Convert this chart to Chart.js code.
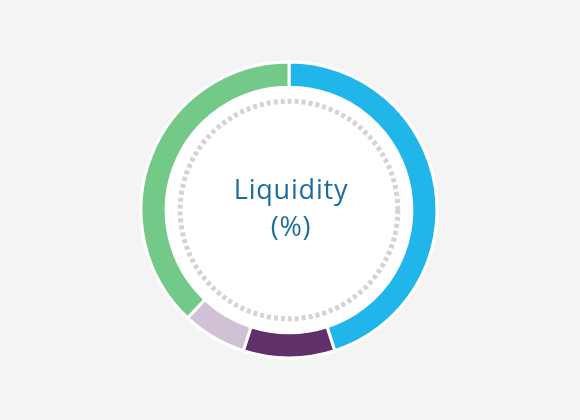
<!DOCTYPE html>
<html>
<head>
<meta charset="utf-8">
<script src="https://cdn.jsdelivr.net/npm/chart.js@4"></script>
<style>
html,body{margin:0;padding:0;background:#f4f4f4;}
#wrap{width:580px;height:420px;position:relative;}
</style>
</head>
<body>
<div id="wrap"><canvas id="c" width="580" height="420"></canvas></div>
<script>
const categories = ["Segment A", "Segment B", "Segment C", "Segment D"];
const values = [45, 10, 7, 38];
const colors = ["#21b6ea", "#612f6a", "#d1c1d7", "#73c987"];
const centerLines = ["Liquidity", "(%)"];

const centerPlugin = {
  id: 'centerDecor',
  beforeDatasetsDraw(chart) {
    const arc = chart.getDatasetMeta(0).data[0];
    if (!arc) return;
    const ctx = chart.ctx;
    const x = arc.x, y = arc.y;
    ctx.save();
    ctx.fillStyle = '#ffffff';
    ctx.beginPath();
    ctx.arc(x, y, arc.outerRadius + 1.5, 0, Math.PI * 2);
    ctx.fill();
    ctx.restore();
  },
  afterDatasetsDraw(chart) {
    const arc = chart.getDatasetMeta(0).data[0];
    if (!arc) return;
    const ctx = chart.ctx;
    const x = arc.x, y = arc.y;
    ctx.save();
    ctx.strokeStyle = '#d4d4d4';
    ctx.lineWidth = 5;
    ctx.setLineDash([4, 3]);
    ctx.beginPath();
    ctx.arc(x, y, arc.innerRadius - 14, 0, Math.PI * 2);
    ctx.stroke();
    ctx.setLineDash([]);
    ctx.fillStyle = '#1c6d9c';
    ctx.font = '27px "Open Sans"';
    try { ctx.letterSpacing = '0.8px'; } catch (e) {}
    ctx.textAlign = 'center';
    ctx.textBaseline = 'alphabetic';
    ctx.fillText(centerLines[0], x + 2, y - 11);
    ctx.fillText(centerLines[1], x + 2, y + 26);
    ctx.restore();
  }
};

new Chart(document.getElementById('c'), {
  type: 'doughnut',
  data: {
    labels: categories,
    datasets: [{
      data: values,
      backgroundColor: colors,
      borderColor: '#ffffff',
      borderWidth: 3,
      hoverOffset: 0
    }]
  },
  options: {
    responsive: false,
    animation: false,
    radius: 148,
    cutout: '83%',
    layout: { padding: { left: 0, right: 2, top: 0, bottom: 0 } },
    plugins: { legend: { display: false }, tooltip: { enabled: false } }
  },
  plugins: [centerPlugin]
});
</script>
</body>
</html>
